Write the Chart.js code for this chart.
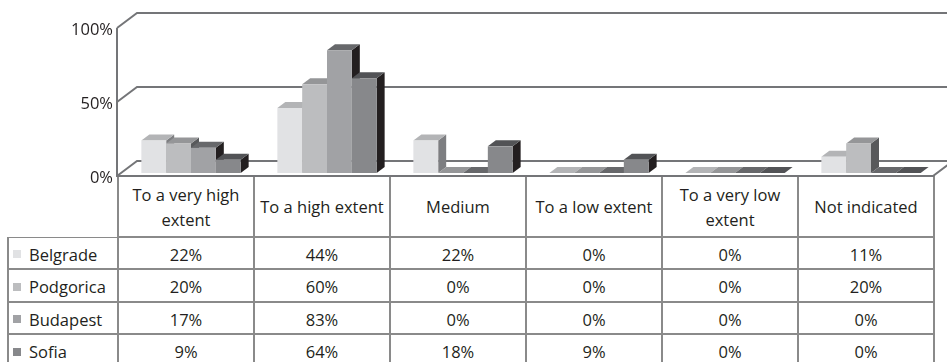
<!DOCTYPE html>
<html lang="en">
<head>
<meta charset="UTF-8">
<title>Extent by city</title>
<script src="https://cdn.jsdelivr.net/npm/chart.js"></script>
<style>
    body { margin: 0; background: #fff; font-family: "Open Sans", sans-serif; color: #231f20; }
    .wrap { position: relative; width: 947px; height: 362px; overflow: hidden; background: #fff; }
    #chart { position: absolute; left: 0; top: 0; z-index: 3; }
    .grid {
        position: absolute; left: 7px; top: 175px; z-index: 1;
        display: grid; gap: 2px; padding: 2px; background: #8a8a8a;
        grid-template-columns: 108px repeat(6, 134px);
        grid-template-rows: 59px 30px 31px 30px 31px;
        font-size: 16.5px;
    }
    .grid div { background: #fff; display: flex; align-items: center; justify-content: center; text-align: center; line-height: 25px; }
    .grid div.cell { padding-top: 2px; }
    .grid div.city { justify-content: flex-start; padding-left: 4px; padding-top: 2px; }
    .swatch { display: inline-block; width: 8px; height: 8px; margin-right: 8px; }
    .corner { position: absolute; left: 0; top: 168px; width: 117px; height: 69px; background: #fff; z-index: 2; }
</style>
</head>
<body>
<div class="wrap">
    <div class="grid" id="table"></div>
    <div class="corner"></div>
    <canvas id="chart" width="947" height="362"></canvas>
</div>
<script>
const categories = [['To a very high', 'extent'], ['To a high extent'], ['Medium'], ['To a low extent'], ['To a very low', 'extent'], ['Not indicated']];
const cities = ['Belgrade', 'Podgorica', 'Budapest', 'Sofia'];
const belgrade = [22, 44, 22, 0, 0, 11];
const podgorica = [20, 60, 0, 0, 0, 20];
const budapest = [17, 83, 0, 0, 0, 0];
const sofia = [9, 64, 18, 9, 0, 0];
const yTicks = [0, 50, 100];

const frontColors = ['#e1e2e4', '#bcbdbf', '#a1a2a5', '#87888b'];
const topColors = ['#b3b4b6', '#959698', '#67686b', '#525356'];
const sideColors = ['#7d7e81', '#58595b', '#231f20', '#231f20'];

// offsets of the front and back planes from the bar plane, and bar depth
const FRONT = [-6, 3];
const BACK = [14, -12];
const DEPTH = [8, -6];

const series = [belgrade, podgorica, budapest, sofia];

// table under the chart
const table = document.getElementById('table');
let html = '<div></div>';
categories.forEach(c => { html += `<div>${c.join('<br>')}</div>`; });
cities.forEach((city, i) => {
    html += `<div class="city"><span class="swatch" style="background:${frontColors[i]}"></span>${city}</div>`;
    series[i].forEach(v => { html += `<div class="cell">${v}%</div>`; });
});
table.innerHTML = html;

function poly(ctx, pts, color) {
    ctx.fillStyle = color;
    ctx.beginPath();
    ctx.moveTo(pts[0][0], pts[0][1]);
    for (let i = 1; i < pts.length; i++) ctx.lineTo(pts[i][0], pts[i][1]);
    ctx.closePath();
    ctx.fill();
}

const depth3d = {
    id: 'depth3d',
    beforeDatasetsDraw(chart) {
        const { ctx, chartArea: a } = chart;
        const y = chart.scales.y;
        const fl = a.left + FRONT[0], fr = a.right + FRONT[0];
        const bl = a.left + BACK[0], br = a.right + BACK[0];
        ctx.save();
        ctx.strokeStyle = '#747578';
        ctx.lineWidth = 2;
        yTicks.forEach(v => {
            const py = y.getPixelForValue(v);
            ctx.beginPath();
            ctx.moveTo(fl, py + FRONT[1]);
            ctx.lineTo(bl, py + BACK[1]);
            ctx.lineTo(br, py + BACK[1]);
            ctx.stroke();
        });
        const y0 = y.getPixelForValue(0), yMax = y.getPixelForValue(100);
        ctx.beginPath();
        ctx.moveTo(fl, yMax + FRONT[1]);
        ctx.lineTo(fl, y0 + FRONT[1]);
        ctx.lineTo(fr, y0 + FRONT[1]);
        ctx.lineTo(br, y0 + BACK[1]);
        ctx.stroke();

        // side faces first, then tops; the library draws the fronts over them
        const bars = [];
        chart.data.datasets.forEach((ds, d) => {
            chart.getDatasetMeta(d).data.forEach(el => {
                const p = el.getProps(['x', 'y', 'base', 'width'], true);
                bars.push({ d, l: p.x - p.width / 2, r: p.x + p.width / 2, top: p.y, base: p.base });
            });
        });
        bars.forEach(b => {
            if (b.base - b.top < 0.5) return;
            poly(ctx, [[b.r, b.top], [b.r + DEPTH[0], b.top + DEPTH[1]], [b.r + DEPTH[0], b.base + DEPTH[1]], [b.r, b.base]], sideColors[b.d]);
        });
        bars.forEach(b => {
            poly(ctx, [[b.l, b.top], [b.r, b.top], [b.r + DEPTH[0], b.top + DEPTH[1]], [b.l + DEPTH[0], b.top + DEPTH[1]]], topColors[b.d]);
        });
        ctx.restore();
    }
};

new Chart(document.getElementById('chart'), {
    type: 'bar',
    data: {
        labels: categories,
        datasets: cities.map((city, i) => ({
            label: city,
            data: series[i],
            backgroundColor: frontColors[i],
            borderWidth: 0,
            categoryPercentage: 0.73,
            barPercentage: 1.0
        }))
    },
    options: {
        responsive: false,
        animation: false,
        devicePixelRatio: 1,
        layout: { padding: { left: 0, right: 8, top: 25, bottom: 189 } },
        plugins: { legend: { display: false }, tooltip: { enabled: false } },
        scales: {
            x: { display: false },
            y: {
                min: 0, max: 100,
                afterFit: s => { s.width = 123; },
                grid: { display: false, drawTicks: false },
                border: { display: false },
                ticks: {
                    stepSize: 50,
                    padding: 10,
                    labelOffset: 5,
                    color: '#231f20',
                    font: { family: 'Open Sans', size: 16.5 },
                    callback: v => v + '%'
                }
            }
        }
    },
    plugins: [depth3d]
});
</script>
</body>
</html>
